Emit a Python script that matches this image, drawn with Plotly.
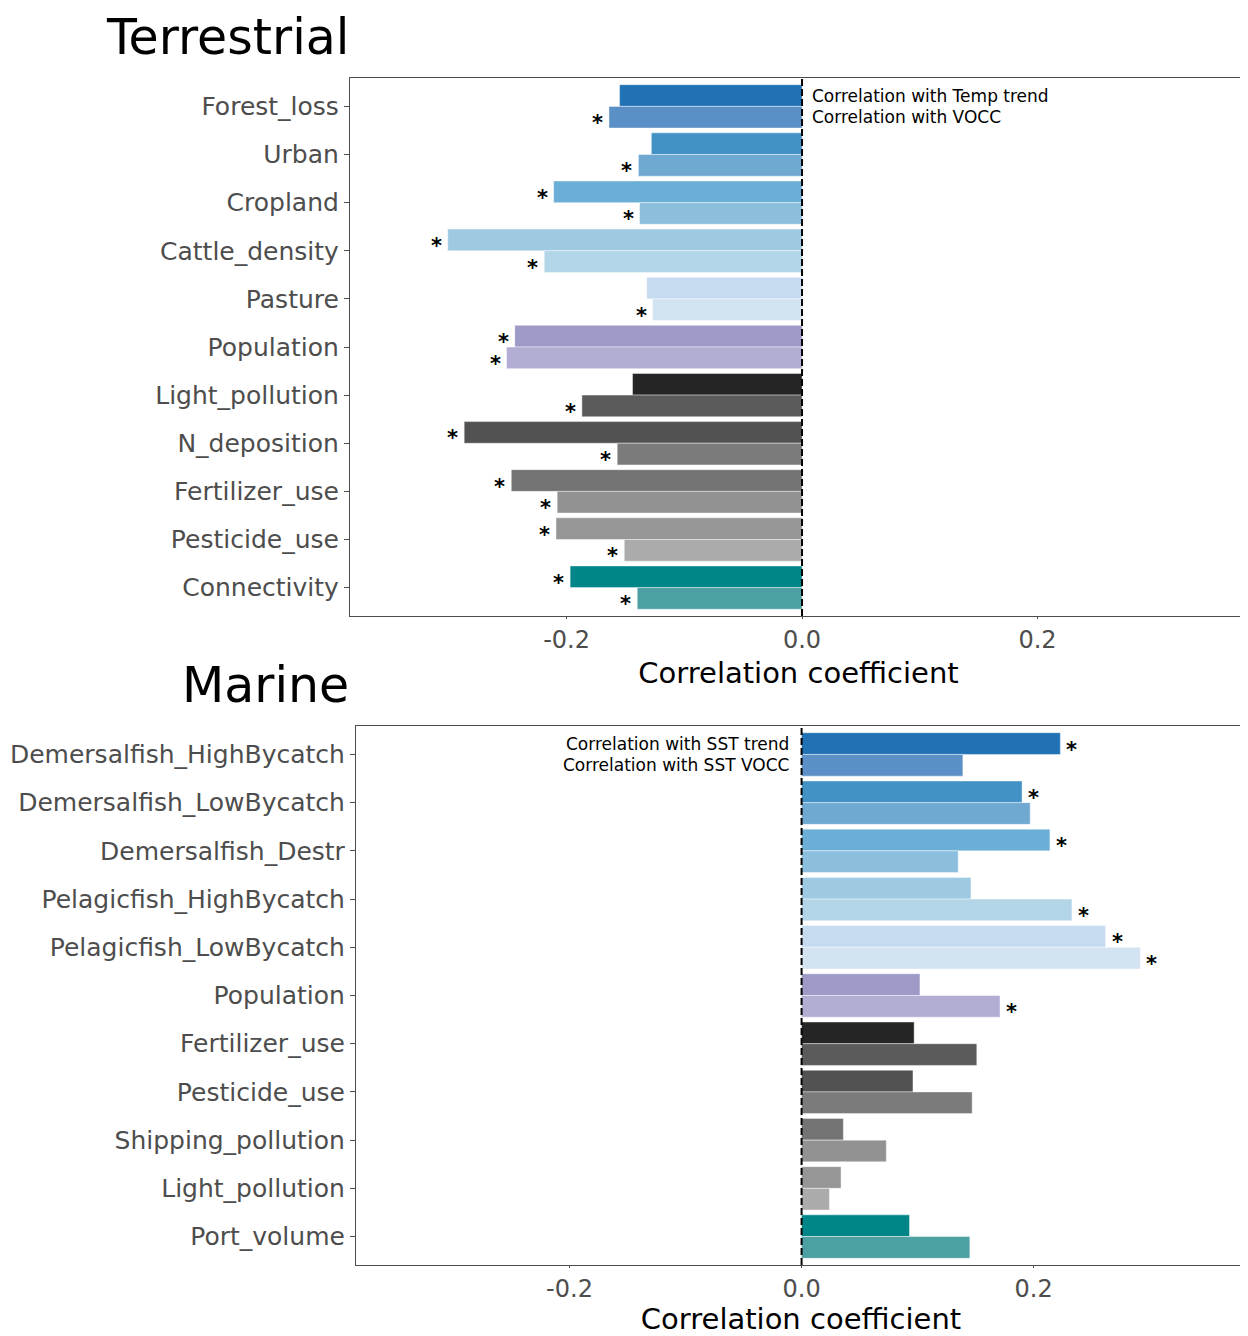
import plotly.graph_objects as go

# ---------------- data ----------------
terr_categories = ["Forest_loss", "Urban", "Cropland", "Cattle_density", "Pasture",
                   "Population", "Light_pollution", "N_deposition", "Fertilizer_use",
                   "Pesticide_use", "Connectivity"]
terr_temp = [-0.155, -0.128, -0.211, -0.301, -0.132, -0.244, -0.144, -0.287, -0.247, -0.209, -0.197]
terr_vocc = [-0.164, -0.139, -0.138, -0.219, -0.127, -0.251, -0.187, -0.157, -0.208, -0.151, -0.140]
terr_temp_sig = [False, False, True, True, False, True, False, True, True, True, True]
terr_vocc_sig = [True, True, True, True, True, True, True, True, True, True, True]

mar_categories = ["Demersalfish_HighBycatch", "Demersalfish_LowBycatch", "Demersalfish_Destr",
                  "Pelagicfish_HighBycatch", "Pelagicfish_LowBycatch", "Population",
                  "Fertilizer_use", "Pesticide_use", "Shipping_pollution", "Light_pollution",
                  "Port_volume"]
mar_sst = [0.223, 0.190, 0.214, 0.146, 0.262, 0.102, 0.097, 0.096, 0.036, 0.034, 0.093]
mar_vocc = [0.139, 0.197, 0.135, 0.233, 0.292, 0.171, 0.151, 0.147, 0.073, 0.024, 0.145]
mar_sst_sig = [True, True, True, False, True, False, False, False, False, False, False]
mar_vocc_sig = [False, False, False, True, True, True, False, False, False, False, False]

x_ticks = [-0.2, 0.0, 0.2]
x_ticklabels = ["-0.2", "0.0", "0.2"]

# ---------------- styles ----------------
dark_cols = ["#2171b5", "#4292c6", "#6baed6", "#9ecae1", "#c6dbef", "#9e9ac8",
             "#252525", "#525252", "#737373", "#969696", "#008688"]
light_cols = ["#5b90c6", "#6fa8d1", "#8cbfde", "#b3d5e8", "#d3e3f2", "#b2aed3",
              "#5b5b5b", "#7b7b7b", "#929292", "#ababab", "#4ca0a2"]

FONT = "DejaVu Sans"
TICK_COL = "#4d4d4d"
BORDER = "#4d4d4d"
BAR_W = 0.45
OFF = 8                      # page margin of the html body
W, H = 1248 - OFF, 1336 - OFF

fig = go.Figure()
annotations = []
shapes = []


def px_x(p):
    return (p - OFF) / W


def px_y(p):
    return 1 - (p - OFF) / H


def add_panel(cats, v1, v2, s1, s2, xa, ya, lab1, lab2, lab_side):
    n = len(cats)
    idx = list(range(n))
    y1 = [i - BAR_W / 2 for i in idx]
    y2 = [i + BAR_W / 2 for i in idx]
    fig.add_trace(go.Bar(x=v1, y=y1, orientation="h", width=BAR_W,
                         marker=dict(color=dark_cols, line=dict(width=0.6, color="rgba(255,255,255,0.7)")),
                         xaxis=xa, yaxis=ya, showlegend=False, hoverinfo="x"))
    fig.add_trace(go.Bar(x=v2, y=y2, orientation="h", width=BAR_W,
                         marker=dict(color=light_cols, line=dict(width=0.6, color="rgba(255,255,255,0.7)")),
                         xaxis=xa, yaxis=ya, showlegend=False, hoverinfo="x"))
    for vals, ys, sigs in ((v1, y1, s1), (v2, y2, s2)):
        for v, yy, sg in zip(vals, ys, sigs):
            if not sg:
                continue
            neg = v < 0
            annotations.append(dict(
                x=v, y=yy, xref=xa, yref=ya, text="<b>*</b>", showarrow=False,
                xanchor="right" if neg else "left", yanchor="middle",
                xshift=-4 if neg else 4, yshift=-6,
                font=dict(family=FONT, size=21, color="black")))
    for lab, yy in ((lab1, y1[0]), (lab2, y2[0])):
        annotations.append(dict(
            x=0, y=yy, xref=xa, yref=ya, text=lab, showarrow=False,
            xanchor="left" if lab_side == "right" else "right", yanchor="middle",
            xshift=8 if lab_side == "right" else -11,
            font=dict(family=FONT, size=17, color="black")))
    shapes.append(dict(type="line", xref=xa, yref=ya + " domain",
                       x0=0, x1=0, y0=0, y1=1,
                       line=dict(color="black", width=2, dash="7px,3px"), layer="above"))


add_panel(terr_categories, terr_temp, terr_vocc, terr_temp_sig, terr_vocc_sig, "x", "y",
          "Correlation with Temp trend", "Correlation with VOCC", "right")
add_panel(mar_categories, mar_sst, mar_vocc, mar_sst_sig, mar_vocc_sig, "x2", "y2",
          "Correlation with SST trend", "Correlation with SST VOCC", "left")


def xaxis_cfg(dom, rng, anchor):
    return dict(domain=dom, range=rng, anchor=anchor, tickvals=x_ticks, ticktext=x_ticklabels,
                ticks="outside", ticklen=2, tickwidth=1.2, tickcolor=BORDER,
                showline=True, linecolor=BORDER, linewidth=1.2, mirror=True,
                showgrid=False, zeroline=False,
                tickfont=dict(family=FONT, size=24, color=TICK_COL),
                title=dict(text="Correlation coefficient", standoff=9,
                           font=dict(family=FONT, size=29, color="black")))


def yaxis_cfg(dom, cats, anchor):
    n = len(cats)
    return dict(domain=dom, range=[n - 1 + 0.59, -0.59], anchor=anchor,
                tickvals=list(range(n)), ticktext=cats,
                ticks="outside", ticklen=5, tickwidth=1.2, tickcolor=BORDER,
                showline=True, linecolor=BORDER, linewidth=1.2, mirror=True,
                showgrid=False, zeroline=False,
                tickfont=dict(family=FONT, size=25, color=TICK_COL))


annotations.append(dict(x=px_x(351), y=px_y(37), xref="paper", yref="paper", text="Terrestrial",
                        showarrow=False, xanchor="right", yanchor="middle",
                        font=dict(family=FONT, size=49, color="black")))
annotations.append(dict(x=px_x(351), y=px_y(685), xref="paper", yref="paper", text="Marine",
                        showarrow=False, xanchor="right", yanchor="middle",
                        font=dict(family=FONT, size=49, color="black")))

fig.update_layout(
    width=W, height=H,
    margin=dict(l=0, r=0, t=0, b=0),
    paper_bgcolor="white", plot_bgcolor="white",
    barmode="overlay",
    xaxis=xaxis_cfg([px_x(350), px_x(1247)], [-0.384, 0.378], "y"),
    yaxis=yaxis_cfg([px_y(616), px_y(78)], terr_categories, "x"),
    xaxis2=xaxis_cfg([px_x(356), px_x(1246)], [-0.384, 0.383], "y2"),
    yaxis2=yaxis_cfg([px_y(1265), px_y(726)], mar_categories, "x2"),
    annotations=annotations,
    shapes=shapes,
)

fig.write_html("out.html")
